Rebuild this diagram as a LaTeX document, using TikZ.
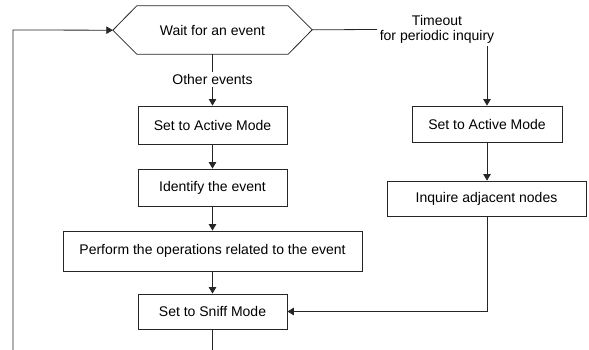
\documentclass[tikz,border=0pt]{standalone}
\usepackage{fontspec}
\setmainfont{Liberation Sans}
\usetikzlibrary{arrows.meta}
\begin{document}
\begin{tikzpicture}[x=1pt,y=-1pt,
  every node/.style={font=\fontsize{14}{17}\selectfont},
  stepbox/.style={draw=black!85, line width=0.8pt, rectangle, inner sep=0pt},
  lbl/.style={inner sep=2.5pt, align=center},
  conn/.style={draw=black!85, line width=0.8pt},
  arr/.style={conn, -{Triangle[length=6.5pt,width=7.5pt]}}]
\useasboundingbox (0,0) rectangle (589,350);
% hexagon
\node[inner sep=0pt, minimum width=151pt, minimum height=48pt] (wait) at (212.5,30) {Wait for an event};
\draw[conn] (wait.north west) -- (wait.north east) -- ++(24,24) coordinate (wtipR) -- (wait.south east) -- (wait.south west) -- ++(-24,-24) coordinate (wtipL) -- cycle;
% labels
\node[lbl] (timeout) at (437,29.5) {Timeout\\[-1.5pt]for periodic inquiry};
\node[lbl] (other) at (212.5,79.5) {Other events};
% left column
\node[stepbox, minimum width=149pt, minimum height=38.5pt] (saml) at (212.5,125.2) {Set to Active Mode};
\node[stepbox, minimum width=149pt, minimum height=37pt] (ident) at (212.5,187.5) {Identify the event};
\node[stepbox, minimum width=299pt, minimum height=40pt] (perf) at (212.5,251) {Perform the operations related to the event};
\node[stepbox, minimum width=149pt, minimum height=35pt] (sniff) at (212.5,311.5) {Set to Sniff Mode};
% right column
\node[stepbox, minimum width=150pt, minimum height=36pt] (samr) at (487,124) {Set to Active Mode};
\node[stepbox, minimum width=199pt, minimum height=35pt] (inq) at (486.5,198.5) {Inquire adjacent nodes};
% free ends
\coordinate (sniffEnd) at (212.5,350);
\coordinate (loopBot) at (13,350);
\coordinate (loopTop) at (13,30);
% connectors
\draw[conn] (wait.south) -- (other.north);
\draw[arr] (other.south) -- (saml.north);
\draw[arr] (saml) -- (ident);
\draw[arr] (ident) -- (perf);
\draw[arr] (perf) -- (sniff);
\draw[conn] (wtipR) -- (timeout.west);
\draw[arr] (timeout.south -| samr.north) -- (samr.north);
\draw[arr] (samr) -- (inq.north -| samr.south);
\draw[arr] (inq.south -| samr.south) |- (sniff.east);
\draw[conn] (sniff.south) -- (sniffEnd);
\draw[arr] (loopBot) -- (loopTop) -- (wtipL);
\end{tikzpicture}
\end{document}
